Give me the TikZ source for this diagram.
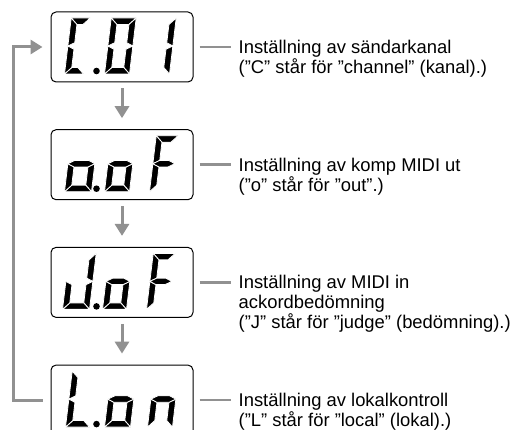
\documentclass[tikz,border=0pt]{standalone}
\usepackage{fontspec}
\setmainfont{Liberation Sans}
\usetikzlibrary{positioning, arrows.meta, calc}

\definecolor{flowgray}{RGB}{145,145,145}

% seven segment glyphs, local y runs down from the baseline
\def\digH{56}
\def\segT{6.5}
\def\segM{3.25}
\newcommand{\segA}{\filldraw[seg] (0,-\digH) -- (\W,-\digH) -- ({\W-\segT},{-\digH+\segT}) -- (\segT,{-\digH+\segT}) -- cycle;}
\newcommand{\segB}{\filldraw[seg] (\W,-\digH) -- (\W,{-\digH/2}) -- ({\W-\segT},{-\digH/2-\segM}) -- ({\W-\segT},{-\digH+\segT}) -- cycle;}
\newcommand{\segC}{\filldraw[seg] (\W,0) -- (\W,{-\digH/2}) -- ({\W-\segT},{-\digH/2+\segM}) -- ({\W-\segT},-\segT) -- cycle;}
\newcommand{\segD}{\filldraw[seg] (0,0) -- (\W,0) -- ({\W-\segT},-\segT) -- (\segT,-\segT) -- cycle;}
\newcommand{\segE}{\filldraw[seg] (0,0) -- (0,{-\digH/2}) -- (\segT,{-\digH/2+\segM}) -- (\segT,-\segT) -- cycle;}
\newcommand{\segF}{\filldraw[seg] (0,-\digH) -- (0,{-\digH/2}) -- (\segT,{-\digH/2-\segM}) -- (\segT,{-\digH+\segT}) -- cycle;}
\newcommand{\segG}{\filldraw[seg] (0,{-\digH/2}) -- (\segT,{-\digH/2-\segM}) -- ({\W-\segT},{-\digH/2-\segM}) -- (\W,{-\digH/2}) -- ({\W-\segT},{-\digH/2+\segM}) -- (\segT,{-\digH/2+\segM}) -- cycle;}

% #1 display, #2 offset, #3 width, #4 segments
\newcommand{\lcdchar}[4]{%
  \begin{scope}[shift={($(#1.west)+(#2,27)$)},xslant=0.12]
    \def\W{#3}
    \foreach \s in {#4}{\csname seg\s\endcsname}
  \end{scope}}
\newcommand{\lcddot}[1]{\fill ($(#1.west)+(46,24)$) circle (3.3);}

\begin{document}
\begin{tikzpicture}[x=1pt,y=-1pt,
    lcd/.style={draw,rounded corners=5pt,line width=1pt,
                minimum width=142pt,minimum height=70pt,inner sep=0pt},
    seg/.style={fill=black,draw=white,line width=0.8pt},
    flow/.style={flowgray,line width=3pt,-{Triangle[width=14pt,length=12pt]}},
    lead/.style={flowgray,line width=2.5pt},
    note/.style={anchor=north west,align=left,inner sep=0pt,
                 font=\fontsize{18.4}{19.8}\selectfont}]
  \useasboundingbox (0,0) rectangle (515,430);

  % displays
  \node[lcd] (d1) at (122,47){};
  \node[lcd,below=46.7pt of d1] (d2){};
  \node[lcd,below=46.7pt of d2] (d3){};
  \node[lcd,below=46.7pt of d3] (d4){};

  % C.01
  \lcdchar{d1}{14}{19}{A,D,E,F}
  \lcddot{d1}
  \lcdchar{d1}{54}{25}{A,B,C,D,E,F}
  \lcdchar{d1}{97}{22}{B,C}
  % o.oF
  \lcdchar{d2}{14}{27}{C,D,E,G}
  \lcddot{d2}
  \lcdchar{d2}{54}{25}{C,D,E,G}
  \lcdchar{d2}{99}{22}{A,E,F,G}
  % J.oF
  \lcdchar{d3}{12}{27}{B,C,D,E}
  \lcddot{d3}
  \lcdchar{d3}{52}{24}{C,D,E,G}
  \lcdchar{d3}{96}{22}{A,E,F,G}
  % L.on
  \lcdchar{d4}{15}{24}{D,E,F}
  \lcddot{d4}
  \lcdchar{d4}{54}{26}{C,D,E,G}
  \lcdchar{d4}{97}{25}{C,E,G}

  % arrows
  \draw[flow,shorten <=6pt,shorten >=11pt] (d1.south) -- (d2.north);
  \draw[flow,shorten <=6pt,shorten >=11pt] (d2.south) -- (d3.north);
  \draw[flow,shorten <=6pt,shorten >=11pt] (d3.south) -- (d4.north);
  \draw[flow,shorten <=8pt,shorten >=8pt] (d4.west) -- ++(-37,0) |- (d1.west);

  % notes
  \coordinate (l1) at ([xshift=37pt]d1.east);
  \coordinate (l2) at ([xshift=37pt]d2.east);
  \coordinate (l3) at ([xshift=37pt]d3.east);
  \coordinate (l4) at ([xshift=37pt]d4.east);
  \draw[lead,shorten <=6pt] (d1.east) -- (l1);
  \draw[lead,shorten <=6pt] (d2.east) -- (l2);
  \draw[lead,shorten <=6pt] (d3.east) -- (l3);
  \draw[lead,shorten <=6pt] (d4.east) -- (l4);
  \node[note] (t1) at ([xshift=8pt,yshift=7pt]l1)
       {Inställning av sändarkanal\\(”C” står för ”channel” (kanal).)};
  \node[note] (t2) at ([xshift=8pt,yshift=7pt]l2)
       {Inställning av komp MIDI ut\\(”o” står för ”out”.)};
  \node[note] (t3) at ([xshift=8pt,yshift=7pt]l3)
       {Inställning av MIDI in\\ackordbedömning\\(”J” står för ”judge” (bedömning).)};
  \node[note] (t4) at ([xshift=8pt,yshift=7pt]l4)
       {Inställning av lokalkontroll\\(”L” står för ”local” (lokal).)};
\end{tikzpicture}
\end{document}
